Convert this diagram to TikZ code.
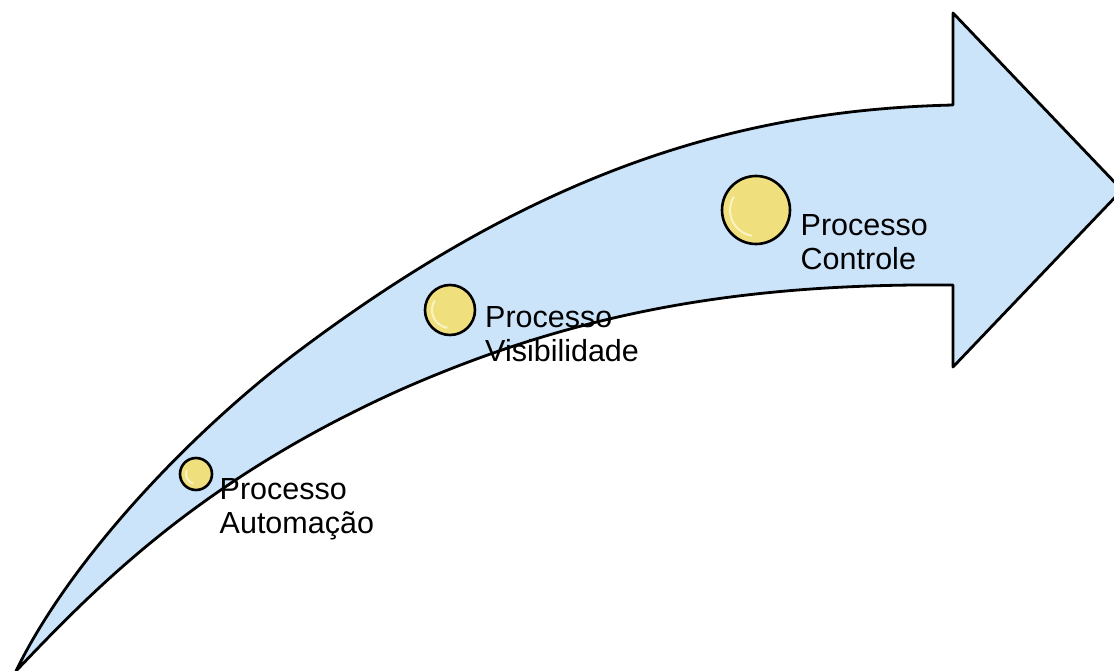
\documentclass[tikz,border=0pt]{standalone}
\usepackage{fontspec}
\setmainfont{Liberation Sans}
\definecolor{arrowblue}{RGB}{204,228,250}
\definecolor{balls}{RGB}{240,223,125}
\definecolor{ballslight}{RGB}{250,243,195}
\tikzset{
  arrowbody/.style={fill=arrowblue, draw=black, line width=2.8pt, line join=round},
  ball/.style={circle, fill=balls, draw=black, line width=2.6pt, inner sep=0pt},
  shine/.style={ballslight, line width=2pt, line cap=round},
  procname/.style={anchor=north west, inner sep=0pt, align=left,
    font=\fontsize{30.5}{34}\selectfont},
}
\begin{document}
\begin{tikzpicture}[x=1pt, y=-1pt]
      \useasboundingbox (0,0) rectangle (1114,671);
      %
      % curved arrow
      \coordinate (tail) at (16,671);
      \draw[arrowbody] (tail)
        .. controls (70,560) and (190,432.5) .. (300,350)      % upper edge
        .. controls (540,170) and (740,110) .. (953,105)
        -- (953,13) -- (1122,190) -- (953,367) -- (953,285)    % head
        .. controls (733,283) and (570,315) .. (400,390)       % lower edge
        .. controls (200,480) and (96,587) .. (tail)
        -- cycle;
      %
      % steps
      \node[ball, minimum size=32pt] (auto) at (196,474) {};
      \draw[shine] (196,474) ++(110:10) arc (110:200:10);
      \node[procname] (autotext) at (219.5,478) {Processo\\Automação};
      %
      \node[ball, minimum size=50pt] (visib) at (450,310) {};
      \draw[shine] (450,310) ++(100:18) arc (100:210:18);
      \node[procname] (visibtext) at (485,306) {Processo\\Visibilidade};
      %
      \node[ball, minimum size=68pt] (contr) at (756,210) {};
      \draw[shine] (756,210) ++(100:26) arc (100:210:26);
      \node[procname] (contrtext) at (800.5,214) {Processo\\Controle};
      %
    \end{tikzpicture}
\end{document}
